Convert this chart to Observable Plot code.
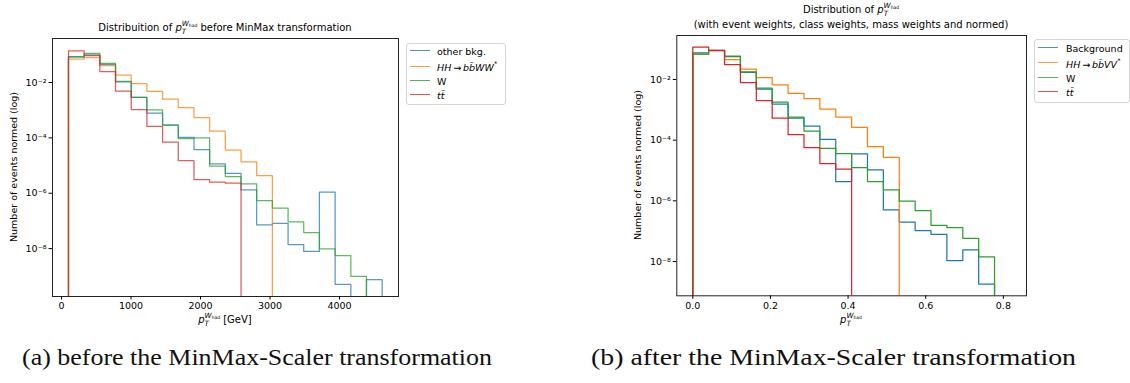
<!DOCTYPE html>
<html><head><meta charset="utf-8">
<script src="https://cdn.jsdelivr.net/npm/d3@7"></script>
<script src="https://cdn.jsdelivr.net/npm/@observablehq/plot@0.6"></script>
<style>
body{margin:0;background:#fff;}
#root{position:relative;width:1130px;height:383px;overflow:hidden;font-family:"DejaVu Sans",sans-serif;color:#000;background:#fff;}
.abs{position:absolute;white-space:nowrap;}
.ctr{transform:translate(-50%,-50%);}
.t10{font-size:10px;line-height:12px;}
.sb{font-size:0.72em;position:relative;top:0.35em;}
.sp{font-size:0.72em;position:relative;top:-0.75em;margin-left:-0.62em;}
.had{font-size:0.62em;position:relative;top:0.25em;}
.legend{position:absolute;border:1px solid #d5d5d5;border-radius:3px;background:rgba(255,255,255,0.8);}
.sw{position:absolute;height:0;border-top:1.5px solid;}
.lt{position:absolute;font-size:9.5px;line-height:11px;transform:translateY(-50%);white-space:nowrap;}
.ylab{font-size:9.5px;transform:translate(-50%,-50%) rotate(-90deg);}
.cap{font-family:"Liberation Serif",serif;font-size:24px;line-height:26px;color:#111;transform-origin:0 50%;}
</style></head>
<body><div id="root"></div>
<script>
// ---------- data ----------
const leftEdges = [100, 326, 551, 777, 1003, 1228, 1454, 1680, 1906, 2131, 2357, 2583, 2808, 3034, 3260, 3485, 3711, 3937, 4163, 4388, 4614];
const leftOtherBkg = [0.087, 0.10, 0.045, 0.0105, 0.0029, 7.9e-4, 2.9e-4, 1.04e-4, 3.8e-5, 1.15e-5, 5.2e-6, 1.33e-6, 7.2e-8, 8.1e-8, 1.4e-8, 7.9e-9, 1.1e-6, 5.1e-10, 0, 7.6e-10];
const leftHH = [0.070, 0.080, 0.041, 0.0186, 0.0091, 0.0048, 0.0025, 0.00123, 5.4e-4, 1.75e-4, 3.6e-5, 1.35e-5, 4.3e-6];
const leftW = [0.082, 0.112, 0.049, 0.011, 0.0029, 1.02e-3, 2.9e-4, 9.4e-5, 1.0e-4, 9.5e-6, 4.0e-6, 2.2e-6, 5.4e-7, 2.9e-7, 9.3e-8, 3.8e-8, 9.8e-9, 5.6e-9, 1.0e-9];
const leftTT = [0.14, 0.093, 0.0245, 0.0049, 0.00105, 2.6e-4, 7.0e-5, 1.5e-5, 3.1e-6, 2.5e-6, 2.3e-6];

const rightEdges = [0, 0.0409, 0.0818, 0.1227, 0.1636, 0.2045, 0.2455, 0.2864, 0.3273, 0.3682, 0.4091, 0.4500, 0.4909, 0.5318, 0.5727, 0.6136, 0.6545, 0.6955, 0.7364, 0.7773];
const rightBackground = [0.075, 0.090, 0.057, 0.0170, 0.0048, 0.00155, 5.3e-4, 2.9e-4, 1.06e-4, 4.3e-6, 3.5e-5, 1.05e-5, 5.0e-7, 2.0e-7, 1.05e-7, 7.9e-8, 1.08e-8, 2.4e-8, 1.8e-9];
const rightHH = [0.068, 0.089, 0.045, 0.022, 0.0116, 0.0067, 0.0035, 0.00236, 1.06e-3, 5.8e-4, 2.65e-4, 6.1e-5, 2.7e-5];
const rightW = [0.068, 0.091, 0.059, 0.0179, 0.0052, 0.0018, 5.7e-4, 2.0e-4, 5.4e-5, 3.6e-5, 1.25e-5, 4.3e-6, 2.3e-6, 9.8e-7, 4.8e-7, 1.55e-7, 1.3e-7, 5.8e-8, 1.42e-8];
const rightTT = [0.116, 0.092, 0.031, 0.0079, 0.0020, 5.3e-4, 1.52e-4, 5.7e-5, 1.7e-5, 1.1e-5];

const leftLabels = ["other bkg.", "<i>HH</i>\u2009→\u2009<i>bb̄WW</i><sup style='font-size:0.7em'>*</sup>", "W", "<i>tt̄</i>"];
const rightLabels = ["Background", "<i>HH</i>\u2009→\u2009<i>bb̄VV</i><sup style='font-size:0.7em'>*</sup>", "W", "<i>tt̄</i>"];
const colors = ["#1f77b4", "#ff7f0e", "#2ca02c", "#d62728"];
const leftXTicks = [0, 1000, 2000, 3000, 4000];
const rightXTicks = [0, 0.2, 0.4, 0.6, 0.8];
const yTicks = [1e-2, 1e-4, 1e-6, 1e-8];

// ---------- helpers ----------
const supMap = {"-": "⁻", "0": "⁰", "1": "¹", "2": "²", "3": "³", "4": "⁴", "5": "⁵", "6": "⁶", "7": "⁷", "8": "⁸", "9": "⁹"};
const fmtPow = d => "10" + String(Math.round(Math.log10(d))).split("").map(c => supMap[c]).join("");
const FLOOR = 1e-14;
function stepPoints(edges, values) {
  const pts = [{x: edges[0], y: FLOOR}];
  values.forEach((v, i) => {
    const y = v > 0 ? v : FLOOR;
    pts.push({x: edges[i], y}, {x: edges[i + 1], y});
  });
  pts.push({x: edges[values.length], y: FLOOR});
  return pts;
}
function panel(o) {
  const lines = o.series.map((vals, i) => Plot.line(stepPoints(o.edges, vals), {
    x: "x", y: "y", stroke: colors[i], strokeWidth: 1.25, strokeOpacity: o.opacity, clip: true
  }));
  const svg = Plot.plot({
    width: o.width, height: o.height,
    marginLeft: o.ml, marginRight: o.mr, marginTop: o.mt, marginBottom: o.mb,
    style: {fontFamily: "DejaVu Sans", fontSize: "9.5px", color: "#000", background: "transparent", overflow: "visible"},
    x: {domain: o.xDomain},
    y: {type: "log", domain: o.yDomain},
    marks: [
      ...lines,
      Plot.frame({stroke: "#222", strokeWidth: 1}),
      Plot.axisX(o.xTicks, {tickSize: 3.5, tickPadding: 2.5, tickFormat: o.xFmt, label: null}),
      Plot.axisY(yTicks, {tickSize: 3.5, tickPadding: 2.5, tickFormat: fmtPow, label: null})
    ]
  });
  svg.style.position = "absolute";
  svg.style.left = o.left + "px";
  svg.style.top = o.top + "px";
  return svg;
}
const root = document.getElementById("root");
function add(html, cls, x, y) {
  const d = document.createElement("div");
  d.className = "abs " + cls;
  d.style.left = x + "px"; d.style.top = y + "px";
  d.innerHTML = html;
  root.appendChild(d);
  return d;
}
const ptW = `<i>p</i><span class="sb"><i>T</i></span><span class="sp"><i>W</i><span class="had">had</span></span>`;

// ---------- panels ----------
root.appendChild(panel({
  edges: leftEdges, series: [leftOtherBkg, leftHH, leftW, leftTT], opacity: 0.75,
  left: 0, top: 0, width: 400, height: 340, ml: 52, mr: 2, mt: 38, mb: 44,
  xDomain: [-130, 4849], yDomain: [10 ** -9.73, 10 ** -0.41], xTicks: leftXTicks, xFmt: d => String(d)
}));
root.appendChild(panel({
  edges: rightEdges, series: [rightBackground, rightHH, rightW, rightTT], opacity: 1,
  left: 600, top: 0, width: 430, height: 340, ml: 76.3, mr: 4, mt: 35, mb: 44.7,
  xDomain: [-0.0412, 0.8596], yDomain: [10 ** -9.13, 10 ** -0.55], xTicks: rightXTicks, xFmt: d => d.toFixed(1)
}));

// ---------- titles & labels ----------
add(`Distribuition of ${ptW} before MinMax transformation`, "ctr t10", 225, 29);
add(`Distribution of ${ptW}`, "ctr t10", 851, 11);
add(`(with event weights, class weights, mass weights and normed)`, "ctr t10", 851, 25);
add(`${ptW} [GeV]`, "ctr t10", 225, 321);
add(`${ptW}`, "ctr t10", 851, 321);
add("Number of events normed (log)", "ylab", 13, 167);
add("Number of events normed (log)", "ylab", 637, 165);

// ---------- legends ----------
function legend(x, y, w, h, rowsY, swX, txtX, labels) {
  const b = document.createElement("div");
  b.className = "legend";
  Object.assign(b.style, {left: x + "px", top: y + "px", width: w + "px", height: h + "px"});
  root.appendChild(b);
  labels.forEach((lab, i) => {
    const s = document.createElement("div");
    s.className = "sw";
    Object.assign(s.style, {left: swX + "px", top: (rowsY[i] - 0.7) + "px", width: "20px", borderColor: colors[i], opacity: 0.8});
    root.appendChild(s);
    const t = document.createElement("div");
    t.className = "lt";
    Object.assign(t.style, {left: txtX + "px", top: rowsY[i] + "px"});
    t.innerHTML = lab;
    root.appendChild(t);
  });
}
legend(406, 43, 98, 60, [51, 66.3, 80.5, 95], 409.5, 437, leftLabels);
legend(1034, 39, 94, 62, [47.7, 62.5, 77.5, 92], 1038, 1066, rightLabels);

// ---------- captions ----------
function caption(text, x, w) {
  const d = add(text, "cap", x, 344);
  const r = d.getBoundingClientRect();
  d.style.transform = `scaleX(${w / r.width})`;
}
caption("(a) before the MinMax-Scaler transformation", 22, 470);
caption("(b) after the MinMax-Scaler transformation", 591, 485);
</script>
</body></html>
